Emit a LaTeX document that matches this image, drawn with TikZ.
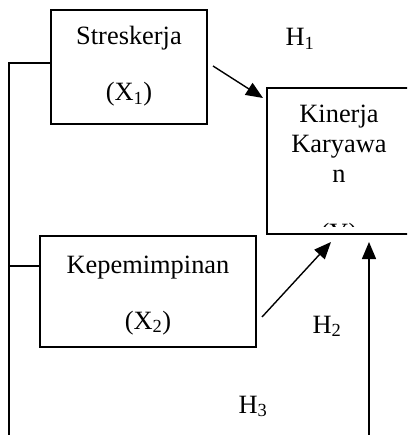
\documentclass[tikz,border=0pt]{standalone}
\usepackage{fontspec}
\setmainfont{Liberation Serif}
\usetikzlibrary{arrows.meta}
\begin{document}
\begin{tikzpicture}[x=1pt,y=-1pt,
  box/.style={draw,line width=1.4pt,inner sep=0pt},
  lbl/.style={anchor=base,inner sep=0pt,font=\fontsize{26.4}{30}\selectfont},
  conn/.style={line width=1.4pt},
  arr/.style={line width=1.4pt,-{Triangle[length=17pt,width=14pt]}}]
\useasboundingbox (0,0) rectangle (407,435);
\clip (0,0) rectangle (407,435);
% boxes
\node[box,minimum width=156pt,minimum height=114pt] (s) at (129,67) {};
\node[box,minimum width=216pt,minimum height=111pt] (k) at (148,291.5) {};
\node[box,minimum width=146pt,minimum height=146pt] (y) at (340,161) {};
% texts
\node[lbl] (s1) at (129,45) {Streskerja};
\node[lbl] (s2) at (129,101) {(X\textsubscript{1})};
\node[lbl] (k1) at (148,273) {Kepemimpinan};
\node[lbl] (k2) at (148,329) {(X\textsubscript{2})};
\node[lbl] (y1) at (339,123) {Kinerja};
\node[lbl] (y2) at (339,153) {Karyawa};
\node[lbl] (y3) at (339,183) {n};
\begin{scope}
\clip (267,200) rectangle (407,226);
\node[lbl] (y4) at (339,241) {(Y)};
\end{scope}
\node[lbl] (h1) at (300,46) {H\textsubscript{1}};
\node[lbl] (h2) at (327,333) {H\textsubscript{2}};
\node[lbl] (h3) at (253,413) {H\textsubscript{3}};
% coordinates
\coordinate (a1s) at (213,66);
\coordinate (a1e) at (263,98);
\coordinate (a2s) at (262,317);
\coordinate (a2e) at (331,242);
\coordinate (a3s) at (369,436);
\coordinate (a3e) at (369,242);
\coordinate (lb) at (9,436);
\coordinate (lt) at (9,63);
\coordinate (lm) at (9,266);
% connectors
\draw[conn] (lb) -- (lt) -- (lt -| s.west);
\draw[conn] (lm) -- (lm -| k.west);
\draw[arr] (a1s) -- (a1e);
\draw[arr] (a2s) -- (a2e);
\draw[arr] (a3s) -- (a3e);
\end{tikzpicture}
\end{document}
